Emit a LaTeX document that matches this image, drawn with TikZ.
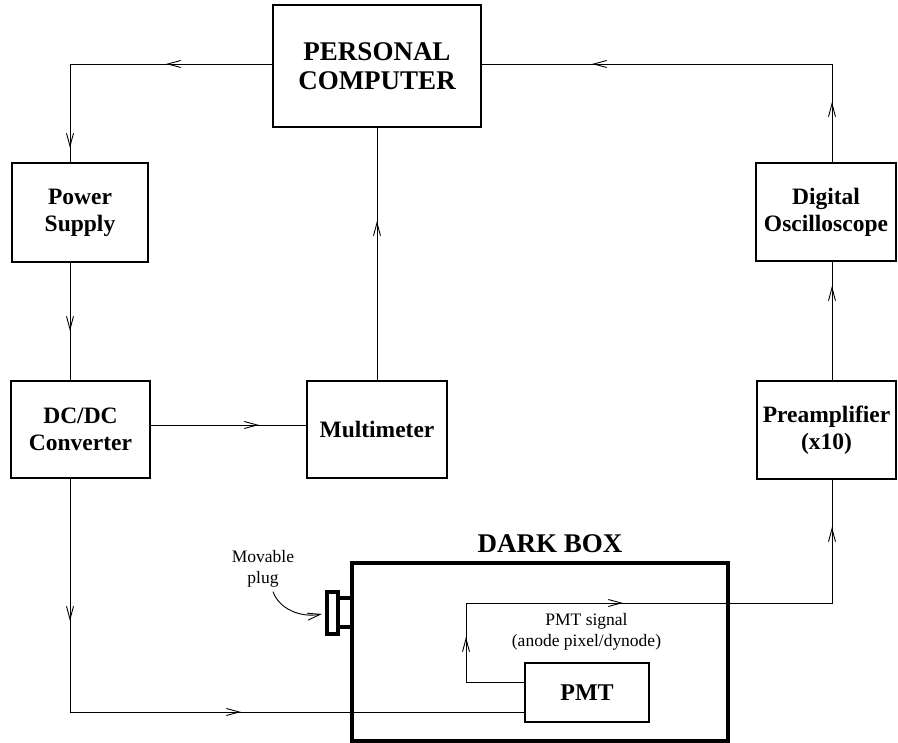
\documentclass[tikz,border=0pt]{standalone}
\usepackage{fontspec}
\setmainfont{Liberation Serif}
\usetikzlibrary{arrows.meta,decorations.markings}
\tikzset{
  box/.style={draw, line width=2pt, inner sep=0pt, align=center,
    font=\fontsize{23.5}{27}\selectfont\bfseries},
  conn/.style={line width=0.9pt},
  arr/.style={postaction={decorate, decoration={markings,
    mark=at position #1 with {\arrow{Straight Barb[length=13pt,width=7pt,line width=0.9pt]}}}}},
  small/.style={font=\fontsize{17.5}{21}\selectfont, align=center, inner sep=0pt}
}
\begin{document}
\begin{tikzpicture}[x=1pt,y=-1pt]
\useasboundingbox (0,0) rectangle (898,743);
% boxes
\node[box, minimum width=208, minimum height=122, font=\fontsize{27}{29}\selectfont\bfseries] (pc) at (377,66) {PERSONAL\\COMPUTER};
\node[box, minimum width=136, minimum height=99] (ps) at (80,212.5) {Power\\Supply};
\node[box, minimum width=139, minimum height=97] (dc) at (80.5,429.5) {DC/DC\\Converter};
\node[box, minimum width=140, minimum height=97] (mm) at (377,429.5) {Multimeter};
\node[box, minimum width=140, minimum height=98] (osc) at (826,212) {Digital\\Oscilloscope};
\node[box, minimum width=139, minimum height=98] (pre) at (826.5,430) {Preamplifier\\(x10)};
\node[draw, line width=4pt, minimum width=376, minimum height=178, inner sep=0pt] (dark) at (540,652) {};
\node[anchor=base, inner sep=0pt, font=\fontsize{27}{29}\selectfont\bfseries] (darkt) at (550,553) {DARK BOX};
\node[box, minimum width=124, minimum height=59, font=\fontsize{24}{27}\selectfont\bfseries] (pmt) at (587,692.5) {PMT};
\node[small] (sig) at (586.5,632) {PMT signal\\(anode pixel/dynode)};
\node[small] (mov) at (263,569) {Movable\\plug};
\node[draw, line width=3.2pt, minimum width=11, minimum height=42, inner sep=0pt] (plugo) at (332.5,613) {};
\node[draw, line width=3.2pt, minimum width=14, minimum height=29, inner sep=0pt] (plugi) at (345,612.5) {};
% coordinates
\coordinate (tl) at (70,64);
\coordinate (tr) at (832,64);
\coordinate (dcm) at (0,425);
\coordinate (bl) at (70,712);
\coordinate (sa) at (466,682);
\coordinate (sb) at (466,603);
\coordinate (sc) at (832,603);
\coordinate (pl) at (322,614);
% connectors
\draw[conn, arr=106pt, arr=286pt] (pc.west |- tl) -- (tl) -- (ps.north -| tl);
\draw[conn, arr=68pt] (ps.south -| tl) -- (dc.north -| tl);
\draw[conn, arr=108pt] (dc.east |- dcm) -- (mm.west |- dcm);
\draw[conn, arr=159pt] (mm.north) -- (pc.south);
\draw[conn, arr=142pt, arr=404pt] (dc.south -| tl) -- (bl) -- (pmt.west |- bl);
\draw[conn, arr=103pt, arr=294pt, arr=579pt] (pmt.west |- sa) -- (sa) -- (sb) -- (sc) -- (pre.south -| sc);
\draw[conn, arr=94pt] (pre.north -| tr) -- (osc.south -| tr);
\draw[conn, arr=60pt, arr=338pt] (osc.north -| tr) -- (tr) -- (pc.east |- tr);
\draw[conn, -{Straight Barb[length=13pt,width=7pt]}] (mov.south) ++(10,4) .. controls +(6,17) and (300,618) .. (pl);
\end{tikzpicture}
\end{document}
